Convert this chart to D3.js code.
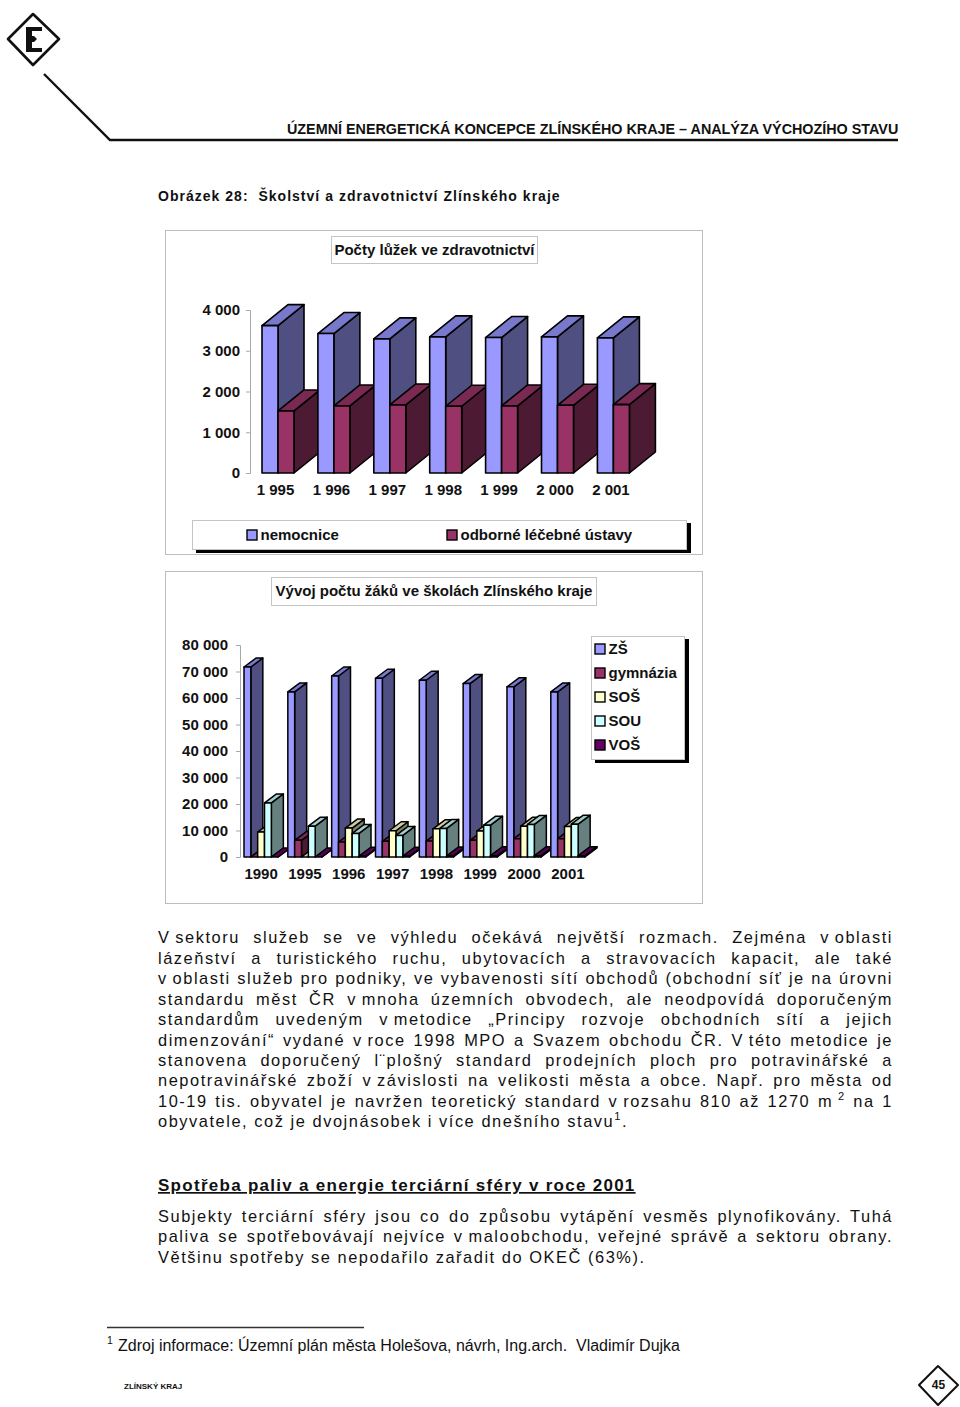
<!DOCTYPE html>
<html><head><meta charset="utf-8">
<script src="https://cdn.jsdelivr.net/npm/d3@7"></script>
<style>
html,body{margin:0;padding:0;background:#fff}
svg{display:block}
text{font-family:"Liberation Sans",Arial,sans-serif;fill:#111;white-space:pre}
.lab{font-weight:700;font-size:15px}
</style></head><body>
<svg id="page" width="960" height="1407"></svg>
<script>
// ---------- data ----------
const bedYears = ["1 995","1 996","1 997","1 998","1 999","2 000","2 001"];
const hospitals = [3617,3422,3291,3340,3324,3340,3316];
const institutes = [1523,1646,1670,1638,1646,1662,1678];
const bedTicks = [0,1000,2000,3000,4000];

const schoolYears = ["1990","1995","1996","1997","1998","1999","2000","2001"];
const zs = [71700,62300,68300,67450,66700,65450,64200,62300];
const gym = [0,6300,5650,5900,6000,6300,6900,6900];
const sos = [9400,0,10900,9900,10650,9800,11650,11550];
const sou = [20400,11650,8900,8150,10800,12000,12300,12400];
const vos = [0,0,300,300,400,500,500,500];
const schoolTicks = [0,10000,20000,30000,40000,50000,60000,70000,80000];

// "~" marks the narrow no-break gap after a one-letter word
const para1 = [
 "V~sektoru služeb se ve výhledu očekává největší rozmach. Zejména v~oblasti",
 "lázeňství a turistického ruchu, ubytovacích a stravovacích kapacit, ale také",
 "v~oblasti služeb pro podniky, ve vybavenosti sítí obchodů (obchodní síť je na úrovni",
 "standardu měst ČR v~mnoha územních obvodech, ale neodpovídá doporučeným",
 "standardům uvedeným v~metodice „Principy rozvoje obchodních sítí a jejich",
 "dimenzování“ vydané v~roce 1998 MPO a Svazem obchodu ČR. V~této metodice je",
 "stanovena doporučený l¨plošný standard prodejních ploch pro potravinářské a",
 "nepotravinářské zboží v~závislosti na velikosti města a obce. Např. pro města od",
 "10-19 tis. obyvatel je navržen teoretický standard v~rozsahu 810 až 1270 m~^2 na 1",
 "obyvatele, což je dvojnásobek i více dnešního stavu^1."
];
const para2 = [
 "Subjekty terciární sféry jsou co do způsobu vytápění vesměs plynofikovány. Tuhá",
 "paliva se spotřebovávají nejvíce v~maloobchodu, veřejné správě a sektoru obrany.",
 "Většinu spotřeby se nepodařilo zařadit do OKEČ (63%)."
];
const colors = {
 blue:["#9999FF","#7878CC","#4F4F82"],
 wine:["#993366","#7A2952","#4D1A33"],
 cream:["#FFFFCC","#CCCCA3","#808066"],
 cyan:["#CCFFFF","#A3CCCC","#668080"],
 violet:["#660066","#520052","#330033"]
};

const svg = d3.select("#page");

function txt(x,y,s,o={}){
  const t = svg.append("text").attr("x",x).attr("y",y).text(s);
  if(o.size) t.style("font-size",o.size+"px");
  if(o.bold) t.style("font-weight",700);
  if(o.ls) t.style("letter-spacing",o.ls+"px");
  if(o.anchor) t.attr("text-anchor",o.anchor);
  if(o.deco) t.style("text-decoration",o.deco);
  return t;
}
function box(g,x,y,w,h,shadow){
  if(shadow) g.append("rect").attr("x",x+4).attr("y",y+3).attr("width",w+1).attr("height",h+1).attr("fill","#000");
  g.append("rect").attr("x",x+.5).attr("y",y+.5).attr("width",w).attr("height",h).attr("fill","#fff").attr("stroke","#c4c4c4");
}

// ---------- header ----------
const logo = svg.append("g");
logo.append("path").attr("d","M33 14L59 39L33 65L8 39Z").attr("fill","#fff").attr("stroke","#111").attr("stroke-width",2.6).attr("stroke-linejoin","round");
logo.append("path").attr("d","M26 27H42V31H32V36L34 36L37 39L34 42L32 42V48H42V52H26Z").attr("fill","#111");
logo.append("path").attr("d","M44 74L110 140H898").attr("fill","none").attr("stroke","#111").attr("stroke-width",2.4);
txt(287,134,"ÚZEMNÍ ENERGETICKÁ KONCEPCE ZLÍNSKÉHO KRAJE – ANALÝZA VÝCHOZÍHO STAVU",{size:14.35,bold:true});
txt(158,201,"Obrázek 28:  Školství a zdravotnictví Zlínského kraje",{size:14,bold:true,ls:1.02});

// ---------- generic 3D bar chart ----------
function bars3d(cfg){
  const g = svg.append("g");
  g.append("rect").attr("x",cfg.frame[0]+.5).attr("y",cfg.frame[1]+.5).attr("width",cfg.frame[2]).attr("height",cfg.frame[3]).attr("fill","#fff").attr("stroke","#bdbdbd");
  box(g,...cfg.titleBox,false);
  g.append("text").attr("class","lab").attr("x",cfg.titleBox[0]+cfg.titleBox[2]/2+.5).attr("y",cfg.titleBox[1]+cfg.titleBox[3]/2+5).attr("text-anchor","middle").text(cfg.title);

  const y = d3.scaleLinear().domain(cfg.yDomain).range(cfg.yRange);
  const x = d3.scaleBand().domain(cfg.cats).range(cfg.xRange).paddingInner(cfg.padIn).paddingOuter(0);
  const x1 = d3.scaleBand().domain(cfg.series.map((s,i)=>i)).range([0,x.bandwidth()]);

  const ay = g.append("g").attr("transform",`translate(${cfg.axisX},0)`)
    .call(d3.axisLeft(y).tickValues(cfg.ticks).tickSize(4).tickPadding(cfg.tickPad).tickFormat(v=>d3.format(",")(v).replace(/,/g," ")));
  ay.selectAll("path,line").attr("stroke","#a8a8a8");
  ay.selectAll("text").attr("class","lab").attr("font-family",null).attr("font-size",null).attr("fill",null);

  cfg.cats.forEach((c,ci)=>{
    cfg.series.forEach((s,si)=>{
      const L = x(c)+x1(si), R = L+x1.bandwidth(), T = y(s.values[ci]), B = y(0);
      const dx = cfg.depth[0], dy = cfg.depth[1];
      const b = g.append("g").attr("stroke","#000").attr("stroke-width",cfg.sw).attr("stroke-linejoin","round");
      b.append("polygon").attr("points",[[R,T],[R+dx,T-dy],[R+dx,B-dy],[R,B]].join(" ")).attr("fill",s.color[2]);
      b.append("polygon").attr("points",[[L,T],[L+dx,T-dy],[R+dx,T-dy],[R,T]].join(" ")).attr("fill",s.color[1]);
      if(T<B) b.append("rect").attr("x",L).attr("y",T).attr("width",R-L).attr("height",B-T).attr("fill",s.color[0]);
    });
  });

  const ax = g.append("g").attr("transform",`translate(0,${cfg.labelY})`)
    .call(d3.axisBottom(x).tickSize(0).tickPadding(0));
  ax.select("path").remove();
  ax.selectAll("text").attr("class","lab").attr("font-family",null).attr("font-size",null).attr("fill",null)
    .attr("dy",0).attr("y",0).attr("dx",cfg.labelShift);

  // legend
  box(g,...cfg.legendBox,true);
  cfg.series.forEach((s,i)=>{
    const p = cfg.legendPos(i);
    g.append("rect").attr("x",p[0]).attr("y",p[1]-9).attr("width",10).attr("height",10).attr("fill",s.color[0]).attr("stroke","#000").attr("stroke-width",1.4);
    g.append("text").attr("class","lab").attr("x",p[0]+13.5).attr("y",p[1]+1).text(s.name);
  });
}

bars3d({
  frame:[165,230,537,324], titleBox:[331,236,206,27], title:"Počty lůžek ve zdravotnictví",
  cats:bedYears, yDomain:[0,4000], yRange:[473,310], ticks:bedTicks, axisX:250, tickPad:6,
  xRange:[262,629.4], padIn:0.4275, depth:[26,21], sw:1.6, labelY:494.5, labelShift:-2.5,
  series:[{name:"nemocnice",values:hospitals,color:colors.blue},{name:"odborné léčebné ústavy",values:institutes,color:colors.wine}],
  legendBox:[192,520,494,29], legendPos:i=>[[247,447][i],539]
});
bars3d({
  frame:[165,571,537,332], titleBox:[271,577,325,28], title:"Vývoj počtu žáků ve školách Zlínského kraje",
  cats:schoolYears, yDomain:[0,80000], yRange:[857,645], ticks:schoolTicks, axisX:240, tickPad:8,
  xRange:[244,585], padIn:0.22, depth:[12,9], sw:1.5, labelY:879, labelShift:0,
  series:[{name:"ZŠ",values:zs,color:colors.blue},{name:"gymnázia",values:gym,color:colors.wine},{name:"SOŠ",values:sos,color:colors.cream},{name:"SOU",values:sou,color:colors.cyan},{name:"VOŠ",values:vos,color:colors.violet}],
  legendBox:[591,636,93,123], legendPos:i=>[595,653+i*24]
});

// ---------- body text ----------
const LEFT=158, RIGHT=893;
function richLine(yy,s,size,ls,justify){
  const t = svg.append("text").attr("x",LEFT).attr("y",yy).style("font-size",size+"px").style("letter-spacing",ls+"px");
  const parts = s.replace(/~/g,"\u2009").split(/\^(\d)/);
  parts.forEach((p,i)=>{
    if(i%2===0){ if(p) t.append("tspan").attr("dy",i?7:0).text(p); }
    else t.append("tspan").attr("dy",-7).style("font-size",(size*0.68)+"px").text(p);
  });
  if(justify){
    const n=(s.match(/ /g)||[]).length, len=t.node().getComputedTextLength();
    t.style("word-spacing",((RIGHT-LEFT-len)/n)+"px");
  }
}
const baseP1=[943,964,984,1005,1025,1046,1066,1086,1107,1127];
para1.forEach((s,i)=>richLine(baseP1[i],s,16.4,1.55,i<para1.length-1));
txt(158,1191,"Spotřeba paliv a energie terciární sféry v roce 2001",{size:17,bold:true,ls:1.28,deco:"underline"});
const baseP2=[1222,1242,1263];
para2.forEach((s,i)=>richLine(baseP2[i],s,16.4,1.55,i<para2.length-1));

// ---------- footer ----------
svg.append("line").attr("x1",107).attr("x2",364).attr("y1",1327.5).attr("y2",1327.5).attr("stroke","#333").attr("stroke-width",1.4);
txt(107,1344,"1",{size:10.5});
txt(118,1351,"Zdroj informace: Územní plán města Holešova, návrh, Ing.arch.  Vladimír Dujka",{size:16});
txt(124,1389,"ZLÍNSKÝ KRAJ",{size:8,bold:true});
svg.append("path").attr("d","M938 1366L958 1385L938 1405L919 1385Z").attr("fill","#fff").attr("stroke","#111").attr("stroke-width",2).attr("stroke-linejoin","round");
txt(938.5,1389,"45",{size:12,bold:true,anchor:"middle"});
</script>
</body></html>
